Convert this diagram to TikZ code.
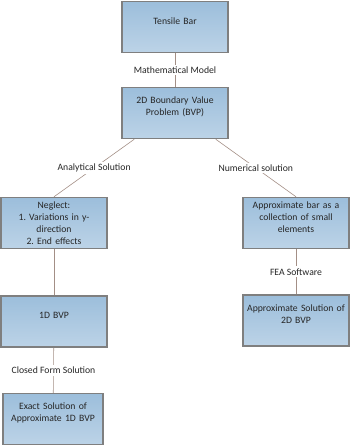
\documentclass[tikz,border=0pt]{standalone}
\usepackage{fontspec}
\setmainfont{Carlito}
\usetikzlibrary{shadows}
\definecolor{boxtop}{HTML}{9CBEDB}
\definecolor{boxbot}{HTML}{BCD3E7}
\definecolor{boxedge}{HTML}{7F7F7F}
\definecolor{linkcol}{HTML}{A38F86}
\definecolor{txtcol}{HTML}{262626}
\newcommand\boxpad{\par\vspace*{12pt}}
\frenchspacing

\begin{document}
\begin{tikzpicture}[ x=1pt, y=-1pt, every node/.style={font=\fontsize{9.7}{12.2}\selectfont, text=txtcol},
      box/.style={draw=boxedge, line width=1.5pt, top color=boxtop, bottom color=boxbot,
        drop shadow={shadow xshift=0.9pt, shadow yshift=-0.9pt, opacity=0.35},
        minimum width=106pt, minimum height=51pt, text width=104pt, inner xsep=1pt,
        align=center},
      lift/.style={execute at end node=\boxpad},
      link/.style={draw=linkcol, line width=0.6pt},
      tag/.style={fill=white, inner sep=2pt} ]

      \useasboundingbox (0,0) rectangle (350,445);

      % Boxes
      \node[box, lift] (bar) at (175,27) {Tensile Bar};
      \node[box, lift] (bvp) at (175,113) {2D Boundary Value\\Problem (BVP)};
      \node[box] (neglect) at (54,223) {Neglect:\\1. Variations in y-\\direction\\2. End effects};
      \node[box, lift] (elems) at (296,223) {Approximate bar as a\\collection of small\\elements};
      \node[box, lift] (oned) at (54,321.5) {1D BVP};
      \node[box, lift] (approxsol) at (296,320.5) {Approximate Solution of\\2D BVP};
      \node[box, lift, minimum width=100pt, text width=98pt] (exact) at (53,419)
      {Exact Solution of\\Approximate 1D BVP};

      % Connectors
      \draw[link] (bar) -- node[tag] {Mathematical Model} (bvp);
      \draw[link] ([xshift=13pt]bvp.south west) -- node[tag] {Analytical Solution}
      (neglect.north);
      \draw[link] ([xshift=-13pt]bvp.south east) -- node[tag] {Numerical solution}
      (elems.north);
      \draw[link] (neglect) -- (oned);
      \draw[link] (elems) -- node[tag] {FEA Software} (approxsol);
      \draw[link] (oned) -- node[tag] {Closed Form Solution} (exact);
    \end{tikzpicture}
\end{document}
